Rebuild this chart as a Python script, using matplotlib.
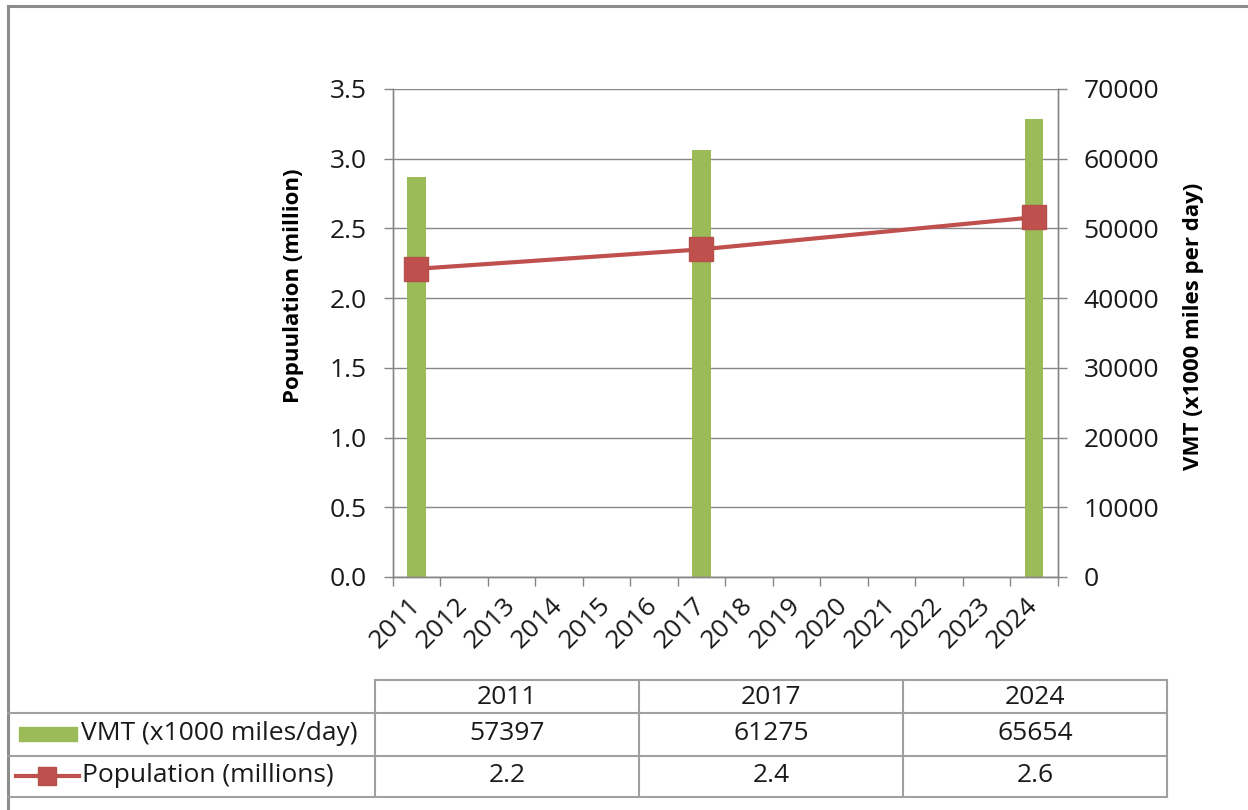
import numpy as np
import matplotlib
matplotlib.use("Agg")
import matplotlib.pyplot as plt
from matplotlib.lines import Line2D
from matplotlib.patches import Rectangle

plt.rcParams['font.family'] = ['Open Sans', 'DejaVu Sans']

# data
years = ['2011', '2012', '2013', '2014', '2015', '2016', '2017',
         '2018', '2019', '2020', '2021', '2022', '2023', '2024']
data_years = ['2011', '2017', '2024']
vmt = [57397, 61275, 65654]
population = [2.21, 2.35, 2.58]
vmt_label = 'VMT (x1000 miles/day)'
pop_label = 'Population (millions)'

green = '#9BBB59'
red = '#C0504D'
grey = '#868686'
txt = '#1A1A1A'
fs = 19

W, H = 1248, 810
fig = plt.figure(figsize=(W / 100, H / 100), dpi=100)


def fx(x):
    return x / W


def fy(y):
    return 1 - y / H


ax = fig.add_axes([fx(392.7), fy(577), (1057.7 - 392.7) / W, (577 - 89) / H])
ax2 = ax.twinx()
ax.set_zorder(2)
ax2.set_zorder(1)
ax.patch.set_visible(False)

pos = [years.index(y) for y in data_years]

# bars on the right axis (with the gridlines, so they sit behind)
ax2.bar(pos, vmt, width=0.39, color=green, zorder=2)
ax2.set_ylim(0, 70000)
ax2.set_yticks(range(0, 70001, 10000))
ax2.grid(axis='y', color=grey, lw=1.0, zorder=0)
ax2.set_axisbelow(True)

# line on the left axis
ax.plot(pos, population, color=red, lw=3, marker='s', ms=17,
        mfc=red, mec='#B6504C', zorder=3, solid_capstyle='butt')
ax.set_ylim(0, 3.5)
ax.set_yticks(np.arange(0, 3.51, 0.5))
ax.set_yticklabels([f'{v:.1f}' for v in np.arange(0, 3.51, 0.5)])

ax.set_xlim(-0.5, 13.5)
ax.set_xticks(range(len(years)))
ax.set_xticklabels(years)
ax.set_xticks(np.arange(-0.5, 14, 1), minor=True)
ax.tick_params(axis='x', which='major', length=0, pad=18, labelsize=fs, labelcolor=txt)
ax.tick_params(axis='x', which='minor', length=6.5, width=1, color=grey, direction='out')
plt.setp(ax.get_xticklabels(), rotation=45, ha='right', va='center', rotation_mode='anchor')

ax.tick_params(axis='y', length=6.5, width=1, color=grey, pad=12, labelsize=fs, labelcolor=txt)
ax2.tick_params(axis='y', length=6.5, width=1, color=grey, pad=12, labelsize=fs, labelcolor=txt)

for a in (ax, ax2):
    a.spines['top'].set_visible(False)
    for s in ('left', 'right', 'bottom'):
        a.spines[s].set_color(grey)
        a.spines[s].set_linewidth(1.0)

fig.text(fx(293), fy(286), 'Popuulation (million)', rotation=90, fontsize=16,
         fontweight='bold', ha='center', va='center', color='black')
fig.text(fx(1194), fy(326), 'VMT (x1000 miles per day)', rotation=90, fontsize=16,
         fontweight='bold', ha='center', va='center', color='black')

# outer frame (top and left edges visible)
frame = '#8C8C8C'
fig.add_artist(Line2D([fx(8), fx(W)], [fy(6), fy(6)], color=frame, lw=2.2))
fig.add_artist(Line2D([fx(8), fx(8)], [fy(6), fy(H)], color=frame, lw=2.2))

# data table
tcol = '#A0A0A0'
col_x = [375, 639, 903, 1167]
row_y = [680, 712.7, 755.7, 797]
fig.add_artist(Line2D([fx(col_x[0]), fx(col_x[-1])], [fy(row_y[0])] * 2, color=tcol, lw=1.5))
for y in row_y[1:]:
    fig.add_artist(Line2D([fx(8), fx(col_x[-1])], [fy(y)] * 2, color=tcol, lw=1.5))
for x in col_x:
    fig.add_artist(Line2D([fx(x)] * 2, [fy(row_y[0]), fy(row_y[-1])], color=tcol, lw=1.5))

for i, yr in enumerate(data_years):
    cx = (col_x[i] + col_x[i + 1]) / 2
    fig.text(fx(cx), fy(697), yr, ha='center', va='center', fontsize=fs, color=txt)
    fig.text(fx(cx), fy(734), f'{vmt[i]}', ha='center', va='center', fontsize=fs, color=txt)
    fig.text(fx(cx), fy(776), f'{population[i]:.1f}', ha='center', va='center', fontsize=fs, color=txt)

# legend keys inside the table
fig.add_artist(Rectangle((fx(19), fy(741)), fx(58), 14 / H, color=green))
fig.add_artist(Line2D([fx(16), fx(79)], [fy(776)] * 2, color=red, lw=3))
fig.add_artist(Line2D([fx(46.5)], [fy(776)], color=red, marker='s', ms=13, mec='#B6504C'))
fig.text(fx(81), fy(734), vmt_label, ha='left', va='center', fontsize=fs, color=txt)
fig.text(fx(82), fy(776), pop_label, ha='left', va='center', fontsize=fs, color=txt)

fig.savefig('out.png', dpi=100, facecolor='white')
